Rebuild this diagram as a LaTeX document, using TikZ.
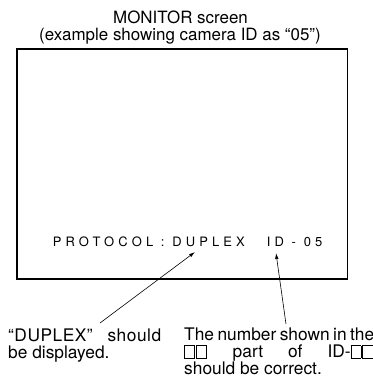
\documentclass[tikz,border=0pt]{standalone}
\usepackage{fontspec}
\setmainfont{TeX Gyre Heros}
\newfontfamily\osdfont[LetterSpace=32]{TeX Gyre Heros}
\usetikzlibrary{arrows.meta}
\newcommand{\digitbox}{{\setlength{\fboxsep}{0pt}\setlength{\fboxrule}{0.5bp}\framebox[0.62em]{\rule{0pt}{0.68em}}}\kern0.06em}

\begin{document}
\begin{tikzpicture}[x=1bp,y=-1bp,
  heading/.style={font=\fontsize{17}{17}\selectfont, anchor=base, inner sep=0pt},
  note/.style={anchor=base west, inner sep=0pt, align=justify, font=\fontsize{17.4}{17.3}\selectfont},
  pointer/.style={-{Latex[length=6bp,width=3.5bp]}, line width=0.6bp}]
\useasboundingbox (0,0) rectangle (373,377);

% Headings above the screen
\node[heading] (title) at (180.5,23.5) {MONITOR screen};
\node[heading] (subtitle) at (180,40) {(example showing camera ID as “05”)};

% Screen frame
\draw[line width=1.8bp] (17,49) rectangle (347.5,279);

% Text shown on the screen
\node[font=\osdfont\fontsize{13}{14}\selectfont, anchor=base west, inner sep=0pt] (osd) at (52.7,246.7) {PROTOCOL : DUPLEX\hspace{22bp}ID - 05};

% Notes below the screen
\node[note, text width=153bp] (duplexnote) at (8,341) {{\addfontfeatures{LetterSpace=3}“DUPLEX” should}\linebreak be displayed.};
\node[note, text width=190bp] (idnote) at (184,340.5) {\spaceskip=0.18em plus 0.8em minus 0.02em
  The number shown in the\linebreak \digitbox\digitbox{} part of ID-\digitbox\digitbox\linebreak
  \spaceskip=0pt should be correct.};

% Pointers
\coordinate (duplexfoot) at (100,323);
\coordinate (duplextip) at (195,252);
\coordinate (idfoot) at (286,324);
\coordinate (idtip) at (276,253);
\draw[pointer] (duplexfoot) -- (duplextip);
\draw[pointer] (idfoot) -- (idtip);

\end{tikzpicture}
\end{document}
